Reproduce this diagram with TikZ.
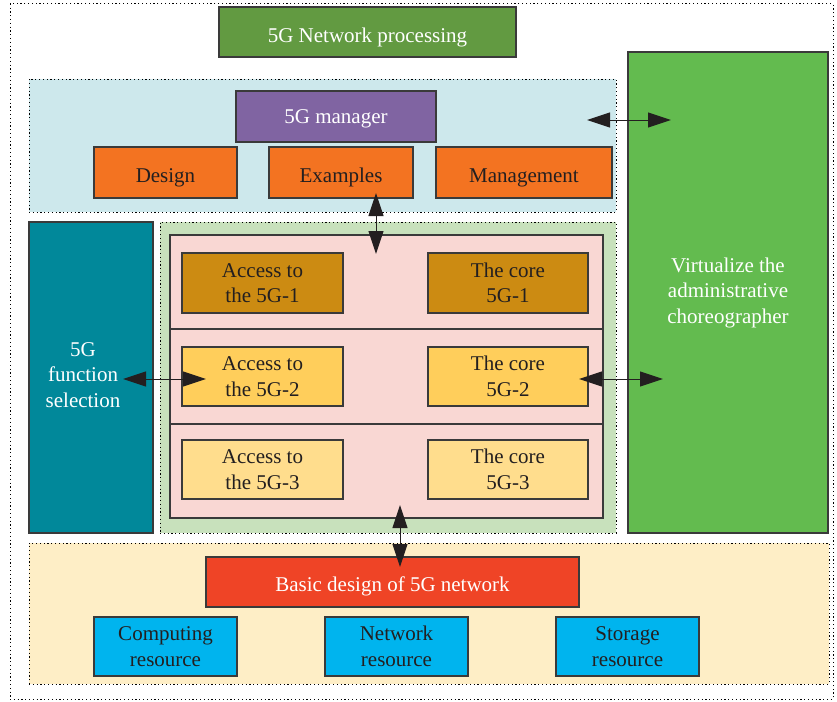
\documentclass[tikz,border=0pt]{standalone}
\usepackage{fontspec}
\setmainfont{Liberation Serif}
\usetikzlibrary{arrows.meta}
\definecolor{cTitle}{HTML}{629A41}
\definecolor{cPurple}{HTML}{8064A2}
\definecolor{cOrange}{HTML}{F37321}
\definecolor{cLBlue}{HTML}{CDE8EC}
\definecolor{cVirt}{HTML}{63BB4F}
\definecolor{cTeal}{HTML}{01889A}
\definecolor{cLGreen}{HTML}{C8E1BC}
\definecolor{cPink}{HTML}{F9D7D3}
\definecolor{cGoldA}{HTML}{CC8B12}
\definecolor{cGoldB}{HTML}{FFCE5B}
\definecolor{cGoldC}{HTML}{FFDD8D}
\definecolor{cBeige}{HTML}{FEEEC6}
\definecolor{cRed}{HTML}{EF4426}
\definecolor{cCyan}{HTML}{00B4EE}
\definecolor{cEdge}{HTML}{3A3A3A}
\definecolor{cText}{HTML}{231F20}
\tikzset{
  boxed/.style={draw=cEdge, line width=1.1pt, inner sep=0pt, align=center, font=\fontsize{21}{25.5}\selectfont},
  single/.style={text height=19pt, text depth=0pt},
  region/.style={draw=black, line width=1pt, dash pattern=on 1.2pt off 2.6pt, inner sep=0pt},
  darktxt/.style={text=cText},
  lighttxt/.style={text=white},
  biarrow/.style={line width=1pt, draw=cText, {Triangle[length=23pt,width=15pt]}-{Triangle[length=23pt,width=15pt]}},
  plain/.style={align=center, inner sep=0pt, font=\fontsize{21}{25.5}\selectfont}
}
\begin{document}
\begin{tikzpicture}[x=1pt,y=-1pt]
\useasboundingbox (0,0) rectangle (837,701);
\fill[white] (0,0) rectangle (837,701);
% outer border
\node[region, minimum width=823pt, minimum height=695pt] (outer) at (421.5,351.5) {};
% title
\node[boxed, single, text height=20pt, fill=cTitle, lighttxt, minimum width=297pt, minimum height=50pt] (title) at (367.5,32) {5G Network processing};
% blue region
\node[region, fill=cLBlue, minimum width=587pt, minimum height=133pt] (bluereg) at (322.5,145.5) {};
\node[boxed, single, text height=14pt, fill=cPurple, lighttxt, minimum width=200pt, minimum height=51pt] (mgr) at (336,116.5) {5G manager};
\node[boxed, single, fill=cOrange, darktxt, minimum width=143pt, minimum height=51pt] (design) at (165.5,172.5) {Design};
\node[boxed, single, fill=cOrange, darktxt, minimum width=144pt, minimum height=51pt] (examples) at (341,172.5) {Examples};
\node[boxed, single, fill=cOrange, darktxt, minimum width=176pt, minimum height=51pt] (management) at (524,172.5) {Management};
% right green
\node[boxed, fill=cVirt, lighttxt, minimum width=200pt, minimum height=481pt] (virt) at (728,292.5) {Virtualize the\\administrative\\choreographer};
% teal
\node[boxed, fill=cTeal, minimum width=124pt, minimum height=311pt] (teal) at (91,377.5) {};
\node[plain, lighttxt] (teallbl) at (83,375) {5G\\function\\selection};
% middle green region
\node[region, fill=cLGreen, minimum width=456pt, minimum height=311pt] (greenreg) at (388,377.5) {};
\node[boxed, fill=cPink, minimum width=433pt, minimum height=283pt] (pink) at (386.5,376.5) {};
\coordinate (dl1) at (170,329); \coordinate (dr1) at (603,329);
\coordinate (dl2) at (170,424); \coordinate (dr2) at (603,424);
\draw[cEdge, line width=1.1pt] (dl1) -- (dr1);
\draw[cEdge, line width=1.1pt] (dl2) -- (dr2);
\node[boxed, fill=cGoldA, darktxt, minimum width=161pt, minimum height=60pt] (acc1) at (262.5,283) {Access to\\the 5G-1};
\node[boxed, fill=cGoldB, darktxt, minimum width=161pt, minimum height=59pt] (acc2) at (262.5,376.5) {Access to\\the 5G-2};
\node[boxed, fill=cGoldC, darktxt, minimum width=161pt, minimum height=59pt] (acc3) at (262.5,469.5) {Access to\\the 5G-3};
\node[boxed, fill=cGoldA, darktxt, minimum width=160pt, minimum height=60pt] (core1) at (508,283) {The core\\5G-1};
\node[boxed, fill=cGoldB, darktxt, minimum width=160pt, minimum height=59pt] (core2) at (508,376.5) {The core\\5G-2};
\node[boxed, fill=cGoldC, darktxt, minimum width=160pt, minimum height=59pt] (core3) at (508,469.5) {The core\\5G-3};
% bottom region
\node[region, fill=cBeige, minimum width=800pt, minimum height=141pt] (beige) at (429,613.5) {};
\node[boxed, single, fill=cRed, lighttxt, minimum width=373pt, minimum height=50pt] (basic) at (392.5,582) {Basic design of 5G network};
\node[boxed, fill=cCyan, darktxt, minimum width=143pt, minimum height=59pt] (comp) at (165.5,646.5) {Computing\\resource};
\node[boxed, fill=cCyan, darktxt, minimum width=143pt, minimum height=59pt] (netres) at (396.5,646.5) {Network\\resource};
\node[boxed, fill=cCyan, darktxt, minimum width=143pt, minimum height=59pt] (stor) at (627.5,646.5) {Storage\\resource};
% arrow endpoints
\coordinate (a1s) at (587,120); \coordinate (a1e) at (671,120);
\coordinate (a2s) at (376,193); \coordinate (a2e) at (376,254);
\coordinate (a3s) at (123,379); \coordinate (a3e) at (206,379);
\coordinate (a4s) at (579,379); \coordinate (a4e) at (663,379);
\coordinate (a5s) at (400,505); \coordinate (a5e) at (400,567);
\draw[biarrow] (a1s) -- (a1e);
\draw[biarrow] (a2s) -- (a2e);
\draw[biarrow] (a3s) -- (a3e);
\draw[biarrow] (a4s) -- (a4e);
\draw[biarrow] (a5s) -- (a5e);
\end{tikzpicture}
\end{document}
